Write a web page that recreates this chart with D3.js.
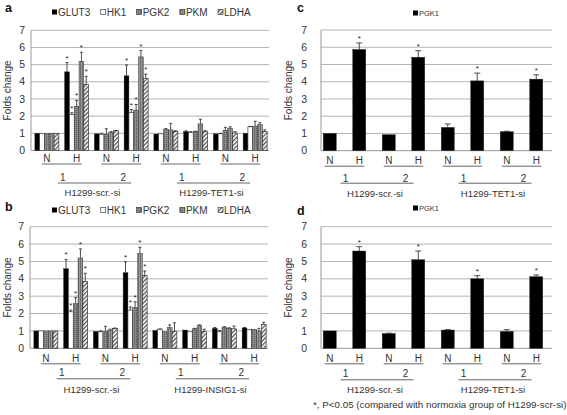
<!DOCTYPE html>
<html><head><meta charset="utf-8">
<script src="https://cdn.jsdelivr.net/npm/d3@7"></script>
<style>body{margin:0;background:#fff}svg{display:block;font-family:"Liberation Sans",Arial,sans-serif}</style>
</head><body>
<svg id="chart" width="567" height="415"></svg>
<script>
// ---------- data ----------
const yTicks = [0,1,2,3,4,5,6,7];
const hypoxia = ["N","H","N","H","N","H","N","H"];
const replicate = ["1","2","1","2"];
const genes = ["GLUT3","HK1","PGK2","PKM","LDHA"];
const groupsA = ["H1299-scr.-si","H1299-TET1-si"];
const groupsB = ["H1299-scr.-si","H1299-INSIG1-si"];
const groupsCD = ["H1299-scr.-si","H1299-TET1-si"];
const starsAB = [1,3];
const starsCD = [1,3,5,7];

// panel a
const aGLUT3 = [1.00,4.58,0.97,4.35,0.96,1.10,0.97,1.00];
const aGLUT3Err = [0.00,0.54,0.00,0.63,0.00,0.05,0.00,0.00];
const aHK1 = [1.00,2.10,0.95,2.20,0.97,1.05,0.97,1.38];
const aHK1Err = [0.00,0.10,0.05,0.18,0.00,0.05,0.03,0.02];
const aPGK2 = [1.00,2.58,0.95,2.35,1.22,1.10,1.18,1.42];
const aPGK2Err = [0.00,0.34,0.32,0.33,0.06,0.02,0.17,0.28];
const aPKM = [1.00,5.20,1.05,5.45,1.20,1.55,1.30,1.52];
const aPKMErr = [0.00,0.52,0.05,0.37,0.38,0.27,0.08,0.10];
const aLDHA = [1.00,3.85,1.15,4.20,1.10,1.12,1.02,1.10];
const aLDHAErr = [0.00,0.47,0.02,0.25,0.05,0.03,0.08,0.10];

// panel b
const bGLUT3 = [1.00,4.58,0.97,4.35,1.03,1.05,1.15,1.17];
const bGLUT3Err = [0.00,0.54,0.00,0.63,0.00,0.00,0.05,0.03];
const bHK1 = [1.00,2.10,0.95,2.20,1.10,0.95,0.95,1.08];
const bHK1Err = [0.00,0.10,0.05,0.18,0.02,0.00,0.07,0.00];
const bPGK2 = [1.00,2.58,0.95,2.35,0.95,1.12,1.22,1.10];
const bPGK2Err = [0.00,0.34,0.32,0.33,0.00,0.03,0.02,0.00];
const bPKM = [1.00,5.20,1.05,5.45,1.20,1.30,1.15,1.00];
const bPKMErr = [0.00,0.52,0.05,0.37,0.15,0.05,0.03,0.15];
const bLDHA = [1.00,3.85,1.15,4.20,0.97,0.98,1.12,1.37];
const bLDHAErr = [0.00,0.47,0.02,0.25,0.50,0.12,0.16,0.13];

// panel c, d (PGK1)
const cPGK1 = [1.00,5.87,0.93,5.42,1.35,4.05,1.10,4.15];
const cPGK1Err = [0.00,0.38,0.00,0.38,0.20,0.45,0.03,0.25];
const dPGK1 = [1.00,5.60,0.85,5.10,1.05,4.00,0.97,4.12];
const dPGK1Err = [0.00,0.25,0.02,0.50,0.02,0.18,0.10,0.10];

const footnote = "*, P<0.05 (compared with normoxia group of H1299-scr-si)";

// ---------- drawing ----------
const svg = d3.select("#chart");
const defs = svg.append("defs");
const txt = "#333";

// patterns
const p1 = defs.append("pattern").attr("id","patPGK2").attr("patternUnits","userSpaceOnUse").attr("width",2).attr("height",2);
p1.append("rect").attr("width",2).attr("height",2).attr("fill","#8a8a8a");
p1.append("rect").attr("width",1).attr("height",1).attr("fill","#5a5a5a");
const p2 = defs.append("pattern").attr("id","patPKM").attr("patternUnits","userSpaceOnUse").attr("width",2).attr("height",2);
p2.append("rect").attr("width",2).attr("height",2).attr("fill","#9a9a9a");
p2.append("rect").attr("width",1).attr("height",2).attr("fill","#707070");
const p3 = defs.append("pattern").attr("id","patLDHA").attr("patternUnits","userSpaceOnUse").attr("width",3).attr("height",3).attr("patternTransform","rotate(45)");
p3.append("rect").attr("width",3).attr("height",3).attr("fill","#fff");
p3.append("rect").attr("width",1.3).attr("height",3).attr("fill","#555");

const geneFill = {GLUT3:"#000", HK1:"#fff", PGK2:"url(#patPGK2)", PKM:"url(#patPKM)", LDHA:"url(#patLDHA)", PGK1:"#000"};

function drawPanel(o){
  const g = svg.append("g");
  const y = d3.scaleLinear().domain([0,7]).range([o.y0, o.y7]);
  const cats = d3.range(8);
  const x = d3.scaleBand().domain(cats).range(o.bandX).padding(0);
  const inner = d3.scaleBand().domain(o.series.map(s=>s.name)).range([-o.groupW/2, o.groupW/2]).padding(0);
  const cx = i => x(i) + x.bandwidth()/2 + o.shift;

  // grid
  g.selectAll(".grid").data(yTicks.filter(t=>t>0)).join("line")
    .attr("x1",o.gridX[0]).attr("x2",o.gridX[1])
    .attr("y1",d=>y(d)).attr("y2",d=>y(d))
    .attr("stroke","#b4b4b4").attr("stroke-width",1);
  // axes lines
  g.append("line").attr("x1",o.gridX[0]).attr("x2",o.gridX[1]).attr("y1",y(0)).attr("y2",y(0)).attr("stroke","#999");
  g.append("line").attr("x1",o.gridX[0]).attr("x2",o.gridX[0]).attr("y1",y(0)).attr("y2",y(7)).attr("stroke","#999");
  // tick labels
  g.selectAll(".tl").data(yTicks).join("text")
    .attr("x",o.tickX).attr("y",d=>y(d)).attr("dy","0.35em")
    .attr("text-anchor","end").attr("font-size",10.5).attr("fill",txt).text(d=>d);
  // y label
  g.append("text").attr("transform",`translate(${o.yLabelX},${(o.y0+o.y7)/2}) rotate(-90)`)
    .attr("text-anchor","middle").attr("dy","0.35em").attr("font-size",10).attr("fill",txt).text("Folds change");

  // bars
  o.series.forEach(s=>{
    const bw = inner.bandwidth();
    const sg = g.append("g");
    sg.selectAll("rect").data(s.values).join("rect")
      .attr("x",(d,i)=>cx(i)+inner(s.name))
      .attr("y",d=>y(d)).attr("width",bw).attr("height",d=>y(0)-y(d))
      .attr("fill",geneFill[s.name]).attr("stroke","#222").attr("stroke-width",s.name==="HK1"||s.name==="LDHA"?0.6:0.4);
    // error bars
    const cap = o.capW;
    s.values.forEach((v,i)=>{
      const e = s.errs[i];
      const xc = cx(i)+inner(s.name)+bw/2;
      if(e>0.005){
        sg.append("line").attr("x1",xc).attr("x2",xc).attr("y1",y(v)).attr("y2",y(v+e)).attr("stroke","#222").attr("stroke-width",0.8);
        sg.append("line").attr("x1",xc-cap/2).attr("x2",xc+cap/2).attr("y1",y(v+e)).attr("y2",y(v+e)).attr("stroke","#222").attr("stroke-width",0.8);
      }
      if(o.stars.includes(i)){
        sg.append("text").attr("x",xc).attr("y",y(v+e)-2).attr("text-anchor","middle")
          .attr("font-size",8).attr("fill","#222").text("*");
      }
    });
  });

  // category labels
  g.selectAll(".nh").data(hypoxia).join("text")
    .attr("x",(d,i)=>cx(i)).attr("y",o.y0+o.nhY).attr("dy","0.35em")
    .attr("text-anchor","middle").attr("font-size",10).attr("fill",txt).text(d=>d);
  d3.range(4).forEach(k=>{
    g.append("line").attr("x1",cx(2*k)-5).attr("x2",cx(2*k+1)+5)
      .attr("y1",o.y0+o.line1Y).attr("y2",o.y0+o.line1Y).attr("stroke","#666").attr("stroke-width",1);
  });
  replicate.forEach((r,k)=>{
    const mid = (cx(2*k)+cx(2*k+1))/2;
    g.append("text").attr("x",mid+(k%2===0?1:2)).attr("y",o.y0+o.repY).attr("dy","0.35em")
      .attr("text-anchor","middle").attr("font-size",10).attr("fill",txt).text(r);
  });
  o.groups.forEach((gn,j)=>{
    const m1 = (cx(4*j)+cx(4*j+1))/2, m2 = (cx(4*j+2)+cx(4*j+3))/2;
    const l = m1-4, r = m2+10;
    g.append("line").attr("x1",l).attr("x2",r).attr("y1",o.y0+o.line2Y).attr("y2",o.y0+o.line2Y).attr("stroke","#666");
    g.append("text").attr("x",(l+r)/2-2).attr("y",o.y0+o.grpY).attr("dy","0.35em")
      .attr("text-anchor","middle").attr("font-size",9.5).attr("fill",txt).text(gn);
  });

  // panel letter
  g.append("text").attr("x",o.letterX).attr("y",o.letterY).attr("font-size",12.5).attr("font-weight","bold").attr("fill","#111").text(o.letter);

  // legend
  let lx = o.legendX;
  o.series.forEach(s=>{
    g.append("rect").attr("x",lx).attr("y",o.legendY-2.5).attr("width",5).attr("height",5)
      .attr("fill",geneFill[s.name]).attr("stroke","#222").attr("stroke-width",s.name==="GLUT3"||s.name==="PGK1"?0:0.6);
    const t = g.append("text").attr("x",lx+6).attr("y",o.legendY).attr("dy","0.35em")
      .attr("font-size",o.legendFont).attr("fill",txt).text(s.name);
    lx += 6 + t.node().getComputedTextLength() + 10.5;
  });
}

const common = {groupW:24, capW:3, shift:0, stars:starsAB, legendFont:10};
drawPanel(Object.assign({}, common, {
  letter:"a", letterX:5, letterY:12, legendX:52, legendY:12,
  y0:150.5, y7:30.3, bandX:[32,270], gridX:[31,269], tickX:25, yLabelX:7,
  nhY:7.5, line1Y:13.5, repY:26.5, line2Y:32.5, grpY:42.5, groups:groupsA,
  series:[{name:"GLUT3",values:aGLUT3,errs:aGLUT3Err},{name:"HK1",values:aHK1,errs:aHK1Err},
          {name:"PGK2",values:aPGK2,errs:aPGK2Err},{name:"PKM",values:aPKM,errs:aPKMErr},
          {name:"LDHA",values:aLDHA,errs:aLDHAErr}]
}));
drawPanel(Object.assign({}, common, {
  letter:"b", letterX:5, letterY:211, legendX:52, legendY:210,
  y0:348.3, y7:226.7, bandX:[31,269], gridX:[30,268], tickX:24, yLabelX:7,
  nhY:10.5, line1Y:15.5, repY:24, line2Y:30.5, grpY:41.5, groups:groupsB,
  series:[{name:"GLUT3",values:bGLUT3,errs:bGLUT3Err},{name:"HK1",values:bHK1,errs:bHK1Err},
          {name:"PGK2",values:bPGK2,errs:bPGK2Err},{name:"PKM",values:bPKM,errs:bPKMErr},
          {name:"LDHA",values:bLDHA,errs:bLDHAErr}]
}));
const commonCD = {groupW:13, capW:6, shift:0, stars:starsCD, legendFont:7.5};
drawPanel(Object.assign({}, commonCD, {
  letter:"c", letterX:297, letterY:12, legendX:413, legendY:13,
  y0:150.7, y7:30, bandX:[315,551], gridX:[321,552], tickX:307, yLabelX:288,
  nhY:9.5, line1Y:15.5, repY:27.5, line2Y:32.5, grpY:42.5, groups:groupsCD,
  series:[{name:"PGK1",values:cPGK1,errs:cPGK1Err}]
}));
drawPanel(Object.assign({}, commonCD, {
  letter:"d", letterX:297, letterY:215, legendX:413, legendY:208,
  y0:348.3, y7:226.7, bandX:[315,551], gridX:[321,552], tickX:307, yLabelX:288,
  nhY:10.5, line1Y:15.5, repY:25.5, line2Y:31.5, grpY:41.5, groups:groupsCD,
  series:[{name:"PGK1",values:dPGK1,errs:dPGK1Err}]
}));

svg.append("text").attr("x",313).attr("y",405).attr("dy","0.35em").attr("font-size",9.8).attr("fill",txt).text(footnote);
</script>
</body></html>
